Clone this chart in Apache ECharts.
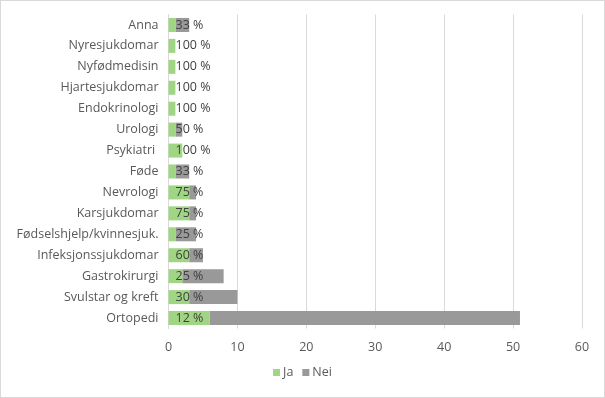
<!DOCTYPE html>
<html>
<head>
<meta charset="utf-8">
<script src="https://cdn.jsdelivr.net/npm/echarts@6/dist/echarts.min.js"></script>
<style>
html,body{margin:0;padding:0;background:#fff;}
#wrap{position:absolute;left:0;top:0;width:603px;height:396px;border:1px solid #d9d9d9;}
#c{width:603px;height:396px;}
</style>
</head>
<body>
<div id="wrap"><div id="c"></div></div>
<script>
const categories = ["Anna","Nyresjukdomar","Nyfødmedisin","Hjartesjukdomar","Endokrinologi","Urologi","Psykiatri ","Føde","Nevrologi","Karsjukdomar","Fødselshjelp/kvinnesjuk.","Infeksjonssjukdomar","Gastrokirurgi","Svulstar og kreft","Ortopedi"];
const ja  = [1,1,1,1,1,1,2,1,3,3,1,3,2,3,6];
const nei = [2,0,0,0,0,1,0,2,1,1,3,2,6,7,45];
const xTicks = [0,10,20,30,40,50,60];

const pctLabels = ja.map((v,i)=>Math.round(v/(v+nei[i])*100) + ' %');
const font = '"Open Sans", "Liberation Sans", Arial, sans-serif';
const fs = 12.5;
const chart = echarts.init(document.getElementById('c'));
chart.setOption({
  animation:false,
  textStyle:{fontFamily:font},
  grid:{left:167.5,right:22,top:13.5,bottom:68.5,containLabel:false},
  legend:{
    data:['Ja','Nei'],
    bottom:13,left:'center',
    icon:'rect',itemWidth:7,itemHeight:7,itemGap:9,
    textStyle:{color:'#595959',fontSize:fs,fontFamily:font,padding:[0,0,0,-2]}
  },
  xAxis:{
    type:'value',min:xTicks[0],max:xTicks[xTicks.length-1],interval:10,
    axisLine:{show:false},axisTick:{show:false},
    splitLine:{lineStyle:{color:'#d9d9d9',width:1}},
    axisLabel:{color:'#595959',fontSize:fs,margin:12,fontFamily:font}
  },
  yAxis:{
    type:'category',data:categories,inverse:true,
    axisLine:{show:true,lineStyle:{color:'#d9d9d9'}},
    axisTick:{show:false},
    axisLabel:{color:'#595959',fontSize:fs,margin:10,fontFamily:font}
  },
  series:[
    {name:'Ja',type:'bar',stack:'s',data:ja,z:3,barCategoryGap:'33%',
     itemStyle:{color:'#a0d683'},
     label:{show:true,position:'insideLeft',distance:7,color:'#404040',fontSize:fs,fontFamily:font,
       formatter:(p)=>pctLabels[p.dataIndex]}},
    {name:'Nei',type:'bar',stack:'s',data:nei,z:2,barCategoryGap:'33%',
     itemStyle:{color:'#999999'}}
  ]
});
</script>
</body>
</html>
